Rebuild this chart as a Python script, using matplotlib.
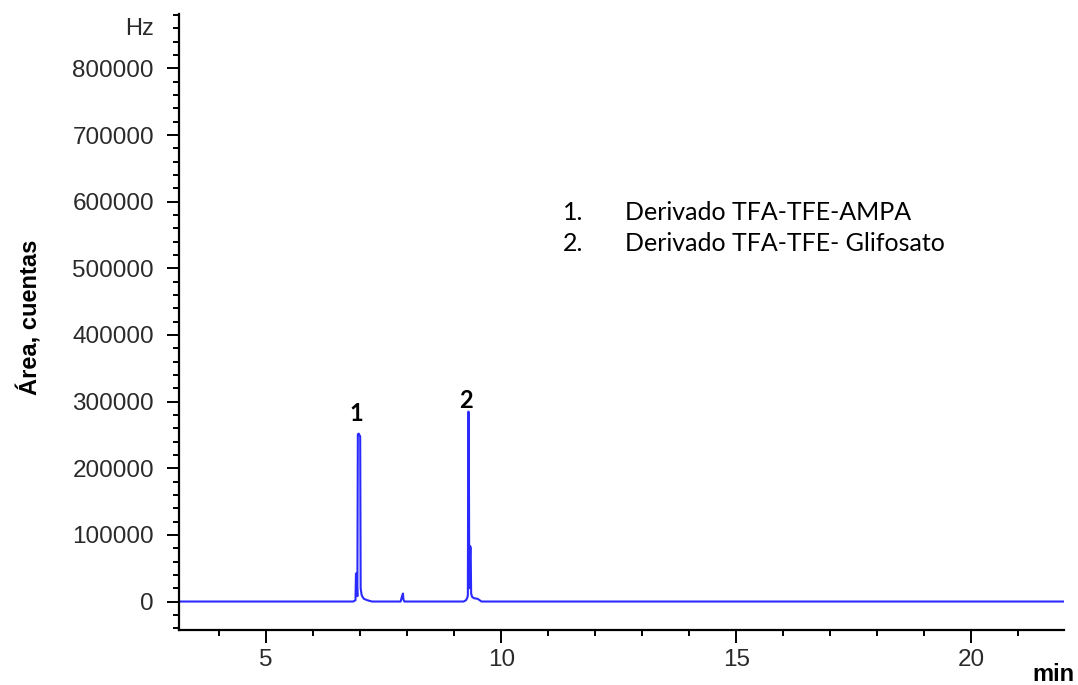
import matplotlib.pyplot as plt
from matplotlib.ticker import MultipleLocator

# chromatogram trace (min, counts)
time_min = [3.14, 6.85, 6.90, 6.91, 6.92, 6.94, 6.95, 6.97, 6.98, 7.00, 7.01, 7.03, 7.05,
            7.08, 7.15, 7.25, 7.86, 7.89, 7.91, 7.92, 7.94, 9.20, 9.25, 9.28, 9.29,
            9.30, 9.31, 9.32, 9.34, 9.35, 9.36, 9.38, 9.42, 9.50, 9.58, 22.1]
counts = [0, 0, 2000, 42000, 42000, 8000, 251000, 252000, 250000, 248000, 20000, 10000, 7000,
          4000, 2000, 0, 0, 8000, 12000, 3000, 0, 0, 2000, 6000, 10000,
          285000, 284000, 20000, 83000, 80000, 12000, 7000, 5000, 4000, 0, 0]

peak_labels = ['1', '2']
peak_pos = [(6.92, 271000), (9.26, 291000)]
legend_nums = ['1.', '2.']
legend_names = ['Derivado TFA-TFE-AMPA', 'Derivado TFA-TFE- Glifosato']

fig = plt.figure(figsize=(10.78, 6.85), dpi=100)
ax = fig.add_axes([0.166, 0.081, 0.821, 0.898])

ax.plot(time_min, counts, color='#2a2aff', lw=1.5)

ax.set_xlim(3.145, 21.97)
ax.set_ylim(-42000, 881000)
ax.xaxis.set_major_locator(MultipleLocator(5))
ax.xaxis.set_minor_locator(MultipleLocator(1))
ax.yaxis.set_minor_locator(MultipleLocator(20000))
ax.set_yticks(range(0, 900000, 100000))

for s in ['top', 'right']:
    ax.spines[s].set_visible(False)
for s in ['left', 'bottom']:
    ax.spines[s].set_linewidth(1.6)
ax.tick_params(which='major', length=9, width=1.4, labelsize=17.5)
ax.tick_params(which='minor', length=4.5, width=1.4)
ax.tick_params(axis='x', which='major', pad=5)
ax.tick_params(axis='y', which='major', pad=9)
for t in ax.get_xticklabels() + ax.get_yticklabels():
    t.set_fontfamily('Liberation Sans')
    t.set_color('#2a2a2a')

fig.text(0.028, 0.537, 'Área, cuentas', rotation=90, va='center', ha='center',
         fontsize=17, fontweight='bold', family='Liberation Sans')
fig.text(0.143, 0.958, 'Hz', ha='right', va='center', fontsize=17,
         family='Liberation Sans', color='#2a2a2a')
fig.text(0.997, 0.006, 'min', ha='right', va='baseline', fontsize=17,
         fontweight='bold', family='Liberation Sans')

for lab, (x, y) in zip(peak_labels, peak_pos):
    ax.text(x, y, lab, ha='center', va='baseline', fontsize=17, fontweight='bold',
            family='Lato')

for i in range(len(legend_names)):
    y = 0.690 - i * 0.045
    fig.text(0.522, y, legend_nums[i], ha='left', va='center', fontsize=18, family='Lato')
    fig.text(0.580, y, legend_names[i], ha='left', va='center', fontsize=18, family='Lato')

fig.savefig('out.png', dpi=100)
